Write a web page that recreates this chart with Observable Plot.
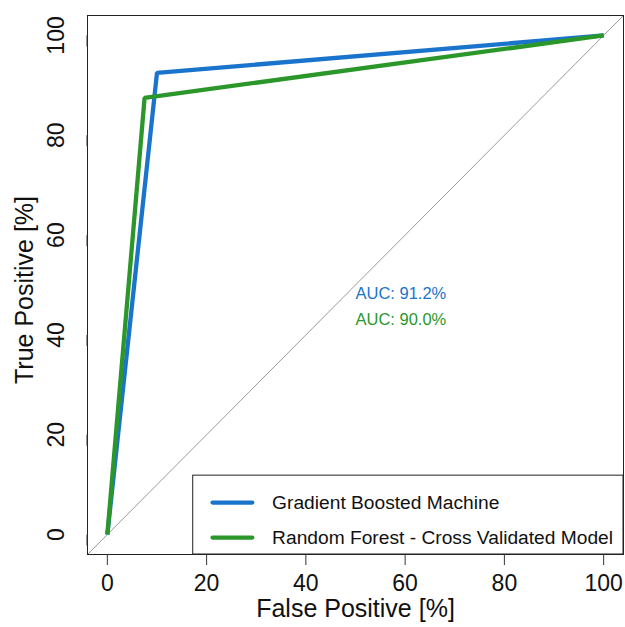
<!DOCTYPE html>
<html><head><meta charset="utf-8">
<script src="https://cdn.jsdelivr.net/npm/d3@7"></script>
<script src="https://cdn.jsdelivr.net/npm/@observablehq/plot@0.6"></script>
<style>body{margin:0;background:#fff}</style>
</head><body><div id="chart"></div>
<script>
// ---- data ----
const models = ["Gradient Boosted Machine", "Random Forest - Cross Validated Model"];
const modelColors = ["#1a74cc", "#2b972b"];
const gbmFPR = [0, 10, 100];
const gbmTPR = [0, 92.5, 100];
const rfFPR = [0, 7.5, 100];
const rfTPR = [0, 87.5, 100];
const aucLabels = ["AUC: 91.2%", "AUC: 90.0%"];
const xTicks = [0, 20, 40, 60, 80, 100];
const yTicks = [0, 20, 40, 60, 80, 100];
const xLabel = "False Positive [%]";
const yLabel = "True Positive [%]";

// ---- tables built from the arrays ----
const roc = [
  ...gbmFPR.map((v, i) => ({model: models[0], fpr: v, tpr: gbmTPR[i]})),
  ...rfFPR.map((v, i) => ({model: models[1], fpr: v, tpr: rfTPR[i]}))
];
const aucRows = aucLabels.map((t, i) => ({text: t, model: models[i], x: 50, y: [48.3, 43.1][i]}));
const legendRows = models.map((m, i) => ({model: m, y: [6.4, -0.6][i]}));

const font = "Liberation Sans, Arial, Helvetica, sans-serif";

const chart = Plot.plot({
  width: 625,
  height: 627,
  marginLeft: 87,
  marginRight: 2,
  marginTop: 15,
  marginBottom: 73,
  style: {fontFamily: font, background: "white", color: "#111"},
  x: {domain: [-4, 104]},
  y: {domain: [-4, 104]},
  color: {domain: models, range: modelColors},
  marks: [
    // diagonal reference
    Plot.line([[-4, -4], [104, 104]], {x: d => d[0], y: d => d[1], stroke: "#9a9a9a", strokeWidth: 1}),
    // ROC curves
    Plot.line(roc, {x: "fpr", y: "tpr", z: "model", stroke: "model", strokeWidth: 4.3, strokeLinejoin: "miter", strokeLinecap: "butt"}),
    // AUC labels
    Plot.text(aucRows, {x: "x", y: "y", text: "text", fill: "model", textAnchor: "start", fontSize: 16.5}),
    // legend
    Plot.rect([0], {x1: 17.3, x2: 104, y1: -4, y2: 11.8, fill: "white", stroke: "#222", strokeWidth: 1}),
    Plot.link(legendRows, {x1: 21.2, x2: 29.2, y1: "y", y2: "y", stroke: "model", strokeWidth: 4.3, strokeLinecap: "round"}),
    Plot.text(legendRows, {x: 33.2, y: "y", text: "model", textAnchor: "start", fontSize: 19.2, fill: "#111"}),
    // frame
    Plot.frame({stroke: "#222", strokeWidth: 1}),
    // axes
    Plot.axisX({ticks: xTicks, tickSize: 11, tickPadding: 9, fontSize: 23, label: null, stroke: "#333"}),
    Plot.axisY({ticks: yTicks, tickSize: 11, tickPadding: 20, fontSize: 23, label: null, rotate: -90, textAnchor: "middle", stroke: "#333"}),
    // axis titles
    Plot.text([xLabel], {text: d => d, frameAnchor: "bottom", dy: 54, fontSize: 25, lineAnchor: "middle"}),
    Plot.text([yLabel], {text: d => d, frameAnchor: "left", dx: -63, dy: 5, rotate: -90, fontSize: 25, textAnchor: "middle", lineAnchor: "middle"})
  ]
});
document.getElementById("chart").appendChild(chart);
</script>
</body></html>
